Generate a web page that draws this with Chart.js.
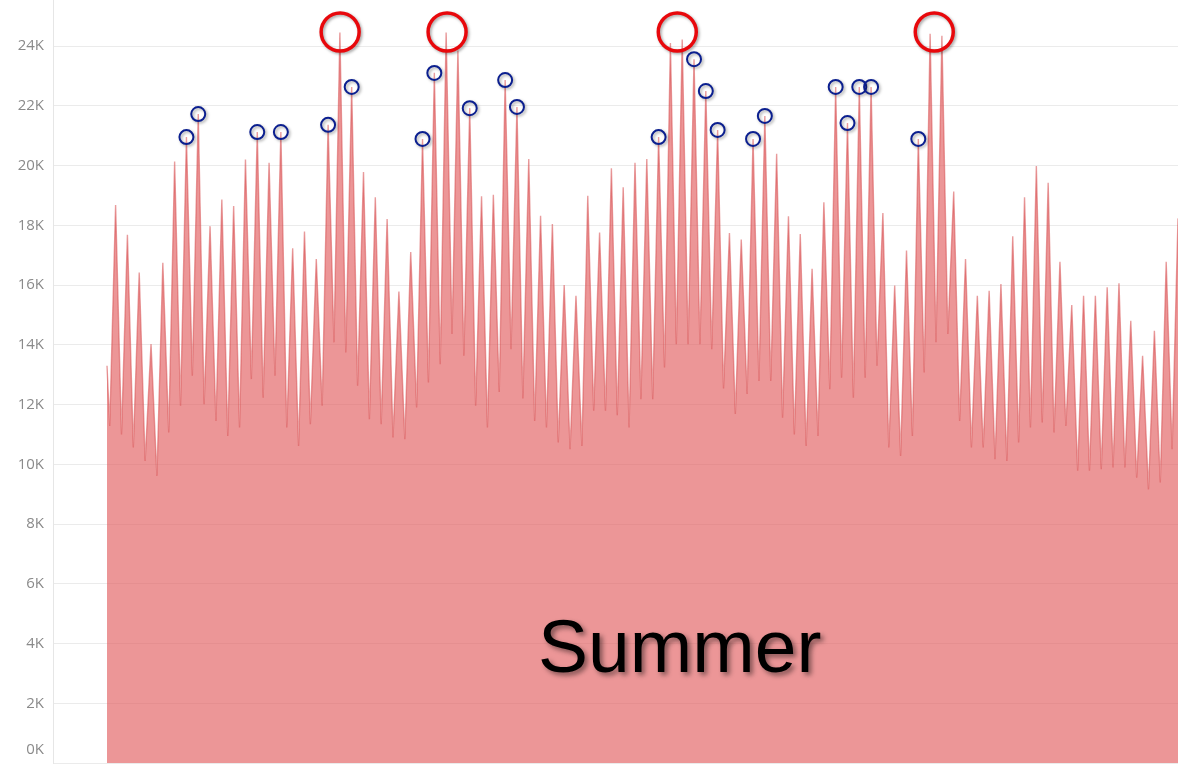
<!DOCTYPE html>
<html>
<head>
<meta charset="utf-8">
<script src="https://cdn.jsdelivr.net/npm/chart.js@4.4.1/dist/chart.umd.min.js"></script>
<style>
  html, body { margin: 0; padding: 0; background: #ffffff; overflow: hidden; }
  #wrap { position: relative; width: 1178px; height: 764px; }
</style>
</head>
<body>
<div id="wrap"><canvas id="c"></canvas></div>
<script>
// ---- Data (values in MW) ----
// First hourly value at the start of day 0
const startValue = 13300;
// Daily early-morning minimum (days 0..90)
const dailyTrough = [
  11280, 11000, 10560, 10110, 9610, 11060, 11960, 12960, 12010, 11450,
  10950, 11230, 12850, 12230, 12960, 11230, 10610, 11340, 11960, 14080,
  13740, 12630, 11510, 11340, 10900, 10840, 11900, 12740, 13350, 14360,
  13630, 11960, 11230, 12420, 13850, 12200, 11450, 11230, 10730, 10500,
  10610, 11790, 11790, 11640, 11230, 12180, 12180, 13240, 14020, 14020,
  14020, 13850, 12540, 11680, 12350, 12790, 12790, 11560, 11000, 10610,
  10950, 12510, 12900, 12230, 12900, 13300, 10560, 10280, 10950, 13070,
  14080, 14360, 11450, 10560, 10560, 10170, 10110, 10730, 11230, 11400,
  11060, 11280, 9780, 9780, 9830, 9890, 9890, 9550, 9160, 9390,
  10500
];
// Daily evening peak (days 0..90)
const dailyPeak = [
  18680, 17680, 16420, 14020, 16740, 20130, 20950, 21720, 17970, 18860,
  18640, 20200, 21120, 20090, 21120, 17230, 17790, 16870, 21360, 24450,
  22630, 19780, 18940, 18210, 15780, 17100, 20890, 23100, 24450, 23850,
  21920, 18970, 19020, 22860, 21960, 20220, 18320, 18040, 16000, 15640,
  18990, 17760, 19910, 19270, 20090, 20220, 20950, 24100, 24220, 23560,
  22490, 21190, 17740, 17520, 20890, 21660, 20390, 18300, 17710, 16540,
  18770, 22630, 21420, 22630, 22630, 18410, 15980, 17150, 20890, 24410,
  24340, 19130, 16870, 15640, 15810, 16030, 17630, 18940, 19980, 19420,
  16780, 15330, 15640, 15640, 15920, 16060, 14800, 13630, 14470, 16780,
  18230
];
// Hour of day of the daily minimum / maximum
const troughHour = 5.5;
const peakHour = 17.5;
// Days whose peak is marked with a small blue circle
const blueMarkDays = [6, 7, 12, 14, 18, 20, 26, 27, 30, 33, 34, 46, 49, 50, 51, 54, 55, 61, 62, 63, 64, 68];
// Large red circles marking the season's highest peaks (x in days, y in MW)
const redMarkDay = [19.75, 28.81, 48.31, 70.08];
const redMarkValue = [24470, 24470, 24470, 24470];
// Y-axis tick labels
const yTickValues = [0, 2000, 4000, 6000, 8000, 10000, 12000, 14000, 16000, 18000, 20000, 22000, 24000];
const yTickLabels = ['0K', '2K', '4K', '6K', '8K', '10K', '12K', '14K', '16K', '18K', '20K', '22K', '24K'];
const seasonLabel = 'Summer';

// ---- Build series ----
const loadSeries = [{ x: 0, y: startValue }];
for (let d = 0; d < dailyPeak.length; d++) {
  loadSeries.push({ x: d + troughHour / 24, y: dailyTrough[d] });
  loadSeries.push({ x: d + peakHour / 24, y: dailyPeak[d] });
}
const lastX = (dailyPeak.length - 1) + peakHour / 24;
const blueSeries = blueMarkDays.map(d => ({ x: d + peakHour / 24, y: dailyPeak[d] }));
const redSeries = redMarkDay.map((d, i) => ({ x: d, y: redMarkValue[i] }));

// pixel geometry of the plot frame
const plotLeft = 53, dataStartPx = 107, canvasW = 1178;
const xMin = -lastX * (dataStartPx - plotLeft) / (canvasW - dataStartPx);

const shadowPlugin = {
  id: 'markShadow',
  beforeDatasetDraw(chart, args) {
    const ds = chart.data.datasets[args.index];
    if (ds.markShadow) {
      const ctx = chart.ctx;
      ctx.save();
      ctx.shadowColor = 'rgba(0,0,0,0.35)';
      ctx.shadowBlur = 3;
      ctx.shadowOffsetX = 1.5;
      ctx.shadowOffsetY = 1.5;
    }
  },
  afterDatasetDraw(chart, args) {
    const ds = chart.data.datasets[args.index];
    if (ds.markShadow) chart.ctx.restore();
  }
};

const overlayPlugin = {
  id: 'overlay',
  afterDraw(chart) {
    const ctx = chart.ctx;
    const ys = chart.scales.y;
    // bottom tick label kept inside the canvas
    ctx.save();
    ctx.font = '15px "Open Sans", sans-serif';
    ctx.fillStyle = '#8a8a8a';
    ctx.textAlign = 'right';
    ctx.textBaseline = 'middle';
    const p0 = Math.min(ys.getPixelForValue(0), chart.height - 14);
    ctx.fillText(yTickLabels[0], plotLeft - 9, p0);
    ctx.restore();
    // season label
    ctx.save();
    ctx.font = '75px "Liberation Sans", Arial, sans-serif';
    ctx.fillStyle = '#000000';
    ctx.textAlign = 'left';
    ctx.textBaseline = 'alphabetic';
    ctx.shadowColor = 'rgba(0,0,0,0.45)';
    ctx.shadowBlur = 5;
    ctx.shadowOffsetX = 3;
    ctx.shadowOffsetY = 3;
    ctx.fillText(seasonLabel, 538, 672);
    ctx.restore();
  }
};

new Chart(document.getElementById('c'), {
  type: 'line',
  data: {
    datasets: [
      {
        label: 'Load',
        data: loadSeries,
        parsing: false,
        borderColor: 'rgba(215,80,82,0.55)',
        borderWidth: 1.4,
        backgroundColor: 'rgba(225,87,89,0.625)',
        fill: 'origin',
        tension: 0,
        pointRadius: 0,
        order: 3
      },
      {
        type: 'scatter',
        label: 'High days',
        data: blueSeries,
        parsing: false,
        pointStyle: 'circle',
        pointRadius: 7,
        pointBorderWidth: 2,
        borderColor: '#0b1f8f',
        backgroundColor: 'rgba(0,0,0,0)',
        pointBackgroundColor: 'rgba(0,0,0,0)',
        pointBorderColor: '#0b1f8f',
        showLine: false,
        markShadow: true,
        order: 2
      },
      {
        type: 'scatter',
        label: 'Peak days',
        data: redSeries,
        parsing: false,
        pointStyle: 'circle',
        pointRadius: 19,
        pointBorderWidth: 3.5,
        borderColor: '#e8080c',
        backgroundColor: 'rgba(0,0,0,0)',
        pointBackgroundColor: 'rgba(0,0,0,0)',
        pointBorderColor: '#e8080c',
        showLine: false,
        markShadow: true,
        clip: false,
        order: 1
      }
    ]
  },
  options: {
    responsive: true,
    maintainAspectRatio: false,
    animation: false,
    events: [],
    layout: { autoPadding: false, padding: { left: 0, right: 0, top: 0, bottom: 1 } },
    plugins: { legend: { display: false }, tooltip: { enabled: false } },
    scales: {
      x: {
        type: 'linear',
        display: false,
        min: xMin,
        max: lastX
      },
      y: {
        type: 'linear',
        min: 0,
        max: 763 / 29.875 * 1000,
        afterBuildTicks(scale) {
          scale.ticks = yTickValues.map(v => ({ value: v }));
        },
        afterFit(scale) {
          scale.width = plotLeft;
          scale.paddingTop = 0;
          scale.paddingBottom = 0;
        },
        grid: { color: '#ebebeb', lineWidth: 1, drawTicks: false },
        border: { display: true, color: '#e6e6e6' },
        ticks: {
          padding: 9,
          font: { family: 'Open Sans', size: 15 },
          color: (ctx) => (ctx.tick && ctx.tick.value === 0) ? 'rgba(0,0,0,0)' : '#8a8a8a',
          callback: (v) => yTickLabels[yTickValues.indexOf(v)]
        }
      }
    }
  },
  plugins: [shadowPlugin, overlayPlugin]
});
</script>
</body>
</html>
